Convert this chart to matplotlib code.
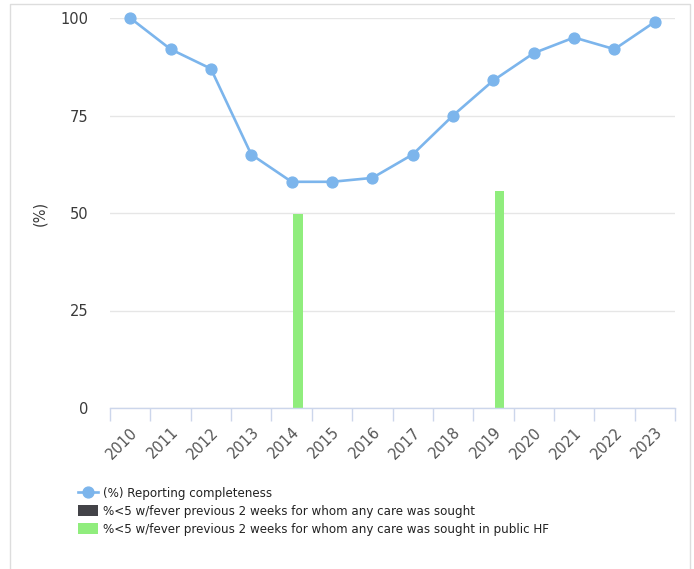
import matplotlib
matplotlib.use("Agg")
import matplotlib.pyplot as plt
from matplotlib.lines import Line2D
from matplotlib.patches import Patch
import numpy as np

years = ["2010", "2011", "2012", "2013", "2014", "2015", "2016",
         "2017", "2018", "2019", "2020", "2021", "2022", "2023"]
completeness = [100, 92, 87, 65, 58, 58, 59, 65, 75, 84, 91, 95, 92, 99]
care_any = [np.nan] * 14
care_public = [np.nan, np.nan, np.nan, np.nan, 49.7, np.nan, np.nan,
               np.nan, np.nan, 55.6, np.nan, np.nan, np.nan, np.nan]
yticks = [0, 25, 50, 75, 100]

W, H = 694, 569
fig = plt.figure(figsize=(W / 100, H / 100), dpi=100)
plt.rcParams['font.family'] = ['DejaVu Sans']

left, right, top, bottom = 110, 675, 18, 408
ax = fig.add_axes([left / W, 1 - bottom / H, (right - left) / W, (bottom - top) / H])

x = np.arange(len(years))
bw = 0.24
ax.bar(x - 0.15, care_any, width=bw, color="#434348", zorder=2)
ax.bar(x + 0.15, care_public, width=bw, color="#90ed7d", zorder=2)
ax.plot(x, completeness, color="#7cb5ec", lw=1.9, marker="o", ms=7.8,
        zorder=3, clip_on=False)

ax.set_xlim(-0.5, len(years) - 0.5)
ax.set_ylim(0, 100)
ax.set_yticks(yticks)
ax.set_yticklabels([str(v) for v in yticks], fontsize=10.5, color="#3a3a3a")
ax.tick_params(axis="y", length=0, pad=15.5)
ax.grid(axis="y", color="#e6e6e6", lw=1, zorder=0)

ax.set_xticks(x)
ax.set_xticklabels(years, rotation=45, ha="right", va="top",
                   rotation_mode="anchor", fontsize=10.5, color="#555555")
ax.tick_params(axis="x", which="major", length=0, pad=12)
ax.set_xticks(np.arange(-0.5, len(years), 1), minor=True)
ax.tick_params(axis="x", which="minor", length=9.5, width=1, color="#ccd6eb")

for s in ["top", "right", "left"]:
    ax.spines[s].set_visible(False)
ax.spines["bottom"].set_color("#ccd6eb")
ax.spines["bottom"].set_linewidth(1)

fig.text(40 / W, 1 - 213 / H, "(%)", rotation=90, ha="center", va="center",
         fontsize=10.5, color="#3a3a3a")

# outer border
fig.add_artist(Line2D([10 / W, 10 / W, 689.5 / W, 689.5 / W],
                      [1 - 569 / H, 1 - 3.5 / H, 1 - 3.5 / H, 1 - 569 / H],
                      transform=fig.transFigure, color="#dddddd", lw=1))

handles = [
    Line2D([0], [0], color="#7cb5ec", lw=1.9, marker="o", ms=7.8),
    Patch(facecolor="#434348", edgecolor="none"),
    Patch(facecolor="#90ed7d", edgecolor="none"),
]
labels = [
    "(%) Reporting completeness",
    "%<5 w/fever previous 2 weeks for whom any care was sought",
    "%<5 w/fever previous 2 weeks for whom any care was sought in public HF",
]
fig.legend(handles, labels, loc="upper left",
           bbox_to_anchor=(78 / W, 1 - 487 / H), frameon=False,
           fontsize=8.6, handlelength=1.7, handleheight=1.05,
           handletextpad=0.4, labelspacing=0.42, borderpad=0,
           borderaxespad=0, labelcolor="#222222")

fig.savefig("out.png", dpi=100)
